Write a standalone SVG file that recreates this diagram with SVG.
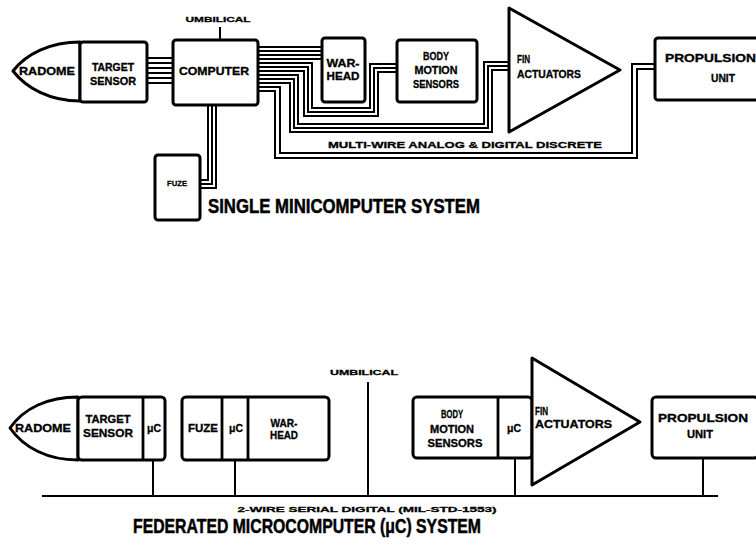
<svg xmlns="http://www.w3.org/2000/svg" width="756" height="548" viewBox="0 0 756 548">
<style>
.box{fill:#fff;stroke:#000;stroke-width:3;stroke-linejoin:round}
.sep{fill:none;stroke:#000;stroke-width:2.8}
.w{fill:none;stroke:#000;stroke-width:2;stroke-linejoin:miter}
.bus{fill:none;stroke:#000;stroke-width:2.2}
.t{font-family:"Liberation Sans",Arial,sans-serif;font-weight:bold;font-size:10.5px;fill:#000;stroke:#000;stroke-width:0.3;text-anchor:middle}
.s{font-size:8px}
.ttl{font-family:"Liberation Sans",Arial,sans-serif;font-weight:bold;font-size:20px;fill:#000;stroke:#000;stroke-width:0.5}
</style>
<rect width="756" height="548" fill="#fff"/>

<!-- ===== Upper: single minicomputer system ===== -->
<g id="connectors-top">
  <path class="w" d="M147,58H173M147,63H173M147,68H173M147,73H173M147,78H173M147,83H173"/>
  <path class="w" d="M220,27V40"/>
  <path class="w" d="M258,47H322M258,51H322M258,55H322M258,59H322"/>
  <path class="w" d="M258,63H312V108H370V64H397"/>
  <path class="w" d="M258,67H308V112H374V68H397"/>
  <path class="w" d="M258,71H304V116H378V72H397"/>
  <path class="w" d="M258,75H298V124H484V62H509"/>
  <path class="w" d="M258,79H294V128H488V66H509"/>
  <path class="w" d="M258,83H290V132H492V70H509"/>
  <path class="w" d="M258,87H280V153H632V64H655"/>
  <path class="w" d="M258,91H275V158H637V69H655"/>
  <path class="w" d="M208,105V180H200M212,105V184H200M216,105V188H200"/>
</g>

<g id="radome-top">
  <path class="box" d="M80,42C50,42 26,54 13,71C26,88 50,101 80,101Z"/>
  <text class="t" x="47" y="75" textLength="56" lengthAdjust="spacingAndGlyphs">RADOME</text>
</g>
<g id="target-sensor-top">
  <rect class="box" x="80" y="42" width="67" height="60" rx="3"/>
  <text class="t" x="113" y="71" textLength="42" lengthAdjust="spacingAndGlyphs">TARGET</text>
  <text class="t" x="113" y="85" textLength="46" lengthAdjust="spacingAndGlyphs">SENSOR</text>
</g>
<g id="computer">
  <rect class="box" x="173" y="40" width="85" height="65" rx="3"/>
  <text class="t" x="214" y="75" textLength="70" lengthAdjust="spacingAndGlyphs">COMPUTER</text>
  <text class="t s" x="218" y="22" textLength="65" lengthAdjust="spacingAndGlyphs">UMBILICAL</text>
</g>
<g id="warhead-top">
  <rect class="box" x="322" y="38" width="43" height="64" rx="3"/>
  <text class="t" x="343" y="67" textLength="33" lengthAdjust="spacingAndGlyphs">WAR-</text>
  <text class="t" x="343" y="80" textLength="33" lengthAdjust="spacingAndGlyphs">HEAD</text>
</g>
<g id="body-motion-top">
  <rect class="box" x="397" y="40" width="80" height="62" rx="3"/>
  <text class="t" x="436" y="60" textLength="26" lengthAdjust="spacingAndGlyphs">BODY</text>
  <text class="t" x="436" y="74" textLength="43" lengthAdjust="spacingAndGlyphs">MOTION</text>
  <text class="t" x="436" y="88" textLength="46" lengthAdjust="spacingAndGlyphs">SENSORS</text>
</g>
<g id="fin-top">
  <path class="box" d="M509,8L620,70L509,132Z"/>
  <text class="t" x="517" y="63" style="text-anchor:start" textLength="13" lengthAdjust="spacingAndGlyphs">FIN</text>
  <text class="t" x="517" y="78" style="text-anchor:start" textLength="64" lengthAdjust="spacingAndGlyphs">ACTUATORS</text>
</g>
<g id="propulsion-top">
  <rect class="box" x="655" y="38" width="140" height="62" rx="3"/>
  <text class="t" x="665" y="62" style="text-anchor:start" textLength="91" lengthAdjust="spacingAndGlyphs">PROPULSION</text>
  <text class="t" x="723" y="82" textLength="24" lengthAdjust="spacingAndGlyphs">UNIT</text>
</g>
<g id="fuze-top">
  <rect class="box" x="155" y="155" width="45" height="65" rx="3"/>
  <text class="t s" x="177" y="186" textLength="20" lengthAdjust="spacingAndGlyphs">FUZE</text>
</g>
<g id="labels-top">
  <text class="t" x="465" y="148" style="font-size:9px" textLength="274" lengthAdjust="spacingAndGlyphs">MULTI-WIRE ANALOG &amp; DIGITAL DISCRETE</text>
  <text class="ttl" x="208" y="213" textLength="272" lengthAdjust="spacingAndGlyphs">SINGLE MINICOMPUTER SYSTEM</text>
</g>

<!-- ===== Lower: federated microcomputer system ===== -->
<g id="connectors-bottom">
  <path class="bus" d="M42,496H718"/>
  <path class="w" d="M153,460V496M235,460V496M368,382V496M515,458V496M703,458V496"/>
</g>

<g id="radome-bottom">
  <path class="box" d="M78,397C48,397 24,408 10,428C24,448 48,460 78,460Z"/>
  <text class="t" x="43" y="432" textLength="56" lengthAdjust="spacingAndGlyphs">RADOME</text>
</g>
<g id="target-sensor-bottom">
  <rect class="box" x="78" y="397" width="87" height="63" rx="4"/>
  <path class="sep" d="M143,397V460"/>
  <text class="t" x="108" y="423" textLength="45" lengthAdjust="spacingAndGlyphs">TARGET</text>
  <text class="t" x="108" y="437" textLength="50" lengthAdjust="spacingAndGlyphs">SENSOR</text>
  <text class="t" x="154" y="432">μC</text>
</g>
<g id="fuze-warhead-bottom">
  <rect class="box" x="182" y="397" width="147" height="63" rx="4"/>
  <path class="sep" d="M222,397V460M248,397V460"/>
  <text class="t" x="203" y="432" textLength="30" lengthAdjust="spacingAndGlyphs">FUZE</text>
  <text class="t" x="236" y="432">μC</text>
  <text class="t" x="284" y="427" textLength="27" lengthAdjust="spacingAndGlyphs">WAR-</text>
  <text class="t" x="284" y="439" textLength="28" lengthAdjust="spacingAndGlyphs">HEAD</text>
</g>
<g id="umbilical-bottom">
  <text class="t s" x="364" y="375" textLength="68" lengthAdjust="spacingAndGlyphs">UMBILICAL</text>
</g>
<g id="body-motion-bottom">
  <rect class="box" x="413" y="397" width="119" height="61" rx="4"/>
  <path class="sep" d="M498,397V458"/>
  <text class="t" x="452" y="418" textLength="22" lengthAdjust="spacingAndGlyphs">BODY</text>
  <text class="t" x="452" y="433" textLength="44" lengthAdjust="spacingAndGlyphs">MOTION</text>
  <text class="t" x="455" y="447" textLength="55" lengthAdjust="spacingAndGlyphs">SENSORS</text>
  <text class="t" x="514" y="432">μC</text>
</g>
<g id="fin-bottom">
  <path class="box" d="M532,358L640,422L532,485Z"/>
  <text class="t" x="535" y="415" style="text-anchor:start" textLength="13" lengthAdjust="spacingAndGlyphs">FIN</text>
  <text class="t" x="535" y="428" style="text-anchor:start" textLength="77" lengthAdjust="spacingAndGlyphs">ACTUATORS</text>
</g>
<g id="propulsion-bottom">
  <rect class="box" x="652" y="397" width="106" height="61" rx="4"/>
  <text class="t" x="703" y="422" textLength="90" lengthAdjust="spacingAndGlyphs">PROPULSION</text>
  <text class="t" x="700" y="438" textLength="26" lengthAdjust="spacingAndGlyphs">UNIT</text>
</g>
<g id="labels-bottom">
  <text class="t s" x="367" y="512" textLength="259" lengthAdjust="spacingAndGlyphs">2-WIRE SERIAL DIGITAL (MIL-STD-1553)</text>
  <text class="ttl" x="133" y="533" textLength="348" lengthAdjust="spacingAndGlyphs">FEDERATED MICROCOMPUTER (μC) SYSTEM</text>
</g>
</svg>
